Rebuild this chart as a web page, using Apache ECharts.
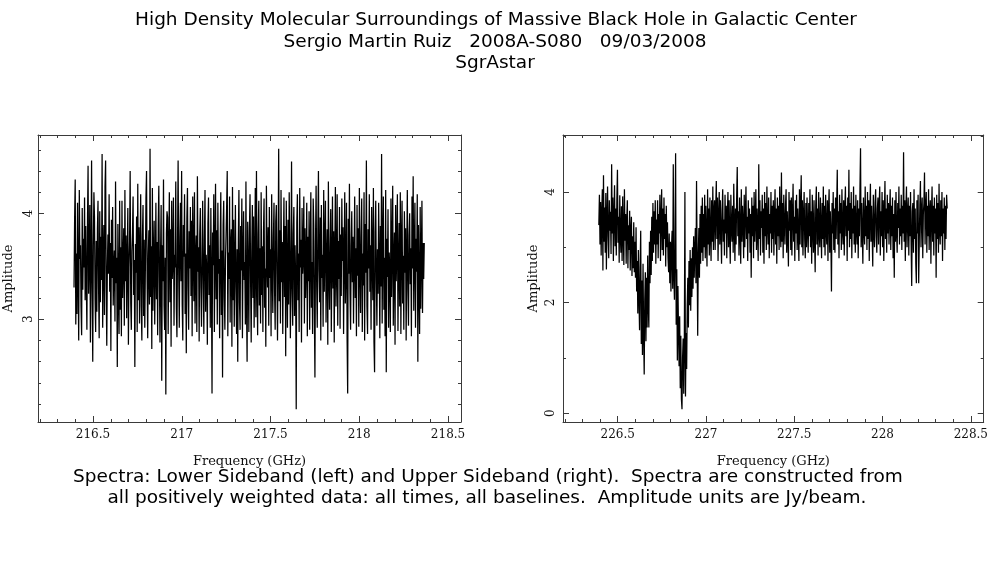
<!DOCTYPE html>
<html>
<head>
<meta charset="utf-8">
<title>SgrAstar spectra</title>
<script src="https://cdn.jsdelivr.net/npm/echarts@6/dist/echarts.min.js"></script>
<style>
  html, body { margin: 0; padding: 0; background: #fff; }
  #main { width: 991px; height: 567px; }
</style>
</head>
<body>
<div id="main"></div>
<script>
// channel grid of the two sidebands (GHz)
var lsbStart = 216.393;
var usbStart = 226.393;
var chanWidth = 0.003294;

// lower sideband amplitude (Jy/beam), one value per channel
var lsbAmp = [
  3.30, 3.95, 4.32, 2.95, 3.62, 3.05, 4.10, 3.40, 2.80, 4.22, 3.57, 3.70, 3.12, 2.85, 4.05, 3.28, 3.76, 3.49, 4.15, 3.18,
  3.88, 3.35, 2.90, 3.91, 4.45, 3.24, 3.58, 4.08, 2.78, 3.47, 4.50, 3.33, 2.60, 3.69, 4.20, 3.96, 3.19, 2.88, 3.74, 3.07,
  3.85, 4.12, 3.29, 2.82, 4.02, 3.16, 3.78, 3.37, 4.56, 2.92, 3.55, 3.89, 3.04, 4.25, 4.50, 3.31, 2.75, 3.50, 3.80, 3.43,
  4.18, 3.26, 3.72, 2.70, 3.94, 3.39, 4.06, 3.13, 3.48, 3.65, 2.98, 4.30, 3.34, 3.58, 2.55, 3.90, 3.25, 2.86, 4.12, 3.09,
  3.68, 2.84, 4.12, 3.20, 3.53, 3.86, 2.94, 4.22, 3.36, 3.79, 3.01, 3.57, 4.05, 2.76, 3.49, 3.74, 4.40, 3.15, 2.90, 3.64,
  3.82, 4.16, 3.23, 3.56, 2.55, 3.71, 3.44, 3.97, 2.88, 4.28, 3.18, 3.87, 2.96, 3.66, 4.18, 3.12, 2.80, 3.78, 4.08, 3.03,
  3.75, 2.92, 3.48, 4.14, 4.40, 3.37, 2.82, 3.60, 3.84, 3.14, 4.61, 3.21, 3.69, 2.72, 4.24, 3.08, 3.57, 3.93, 2.95, 3.46,
  4.10, 3.19, 3.73, 2.85, 3.88, 4.26, 3.40, 2.78, 3.63, 4.08, 2.42, 3.70, 3.36, 4.32, 3.13, 2.90, 3.58, 2.29, 3.81, 4.02,
  3.96, 2.86, 3.67, 4.20, 3.16, 3.85, 2.74, 4.12, 3.38, 3.55, 4.15, 2.94, 3.61, 3.49, 4.30, 3.10, 2.83, 3.68, 4.50, 3.45,
  2.92, 3.77, 4.10, 3.36, 4.40, 3.14, 2.80, 3.89, 3.59, 4.18, 3.05, 3.62, 2.68, 3.95, 4.24, 3.31, 2.90, 3.83, 3.48, 4.06,
  3.22, 3.93, 2.84, 4.16, 3.64, 3.17, 4.20, 2.96, 3.58, 3.79, 2.88, 4.35, 3.45, 3.68, 2.79, 3.80, 4.05, 3.30, 2.93, 3.55,
  4.12, 3.39, 2.86, 3.74, 4.22, 3.07, 3.61, 3.46, 2.76, 3.90, 4.15, 3.23, 3.70, 2.92, 4.05, 3.37, 2.30, 3.82, 3.51, 4.18,
  2.88, 3.62, 4.28, 3.19, 3.84, 2.95, 4.10, 3.43, 3.57, 2.82, 3.72, 4.20, 3.04, 3.65, 2.45, 3.89, 4.12, 3.21, 2.90, 3.56,
  3.79, 4.06, 4.40, 2.84, 3.63, 3.38, 4.16, 2.97, 3.70, 3.85, 2.74, 4.25, 3.18, 3.94, 2.93, 3.50, 4.08, 3.30, 2.86, 3.66,
  2.60, 3.75, 4.22, 3.16, 2.90, 3.88, 3.46, 4.14, 2.82, 3.60, 4.02, 3.37, 3.54, 2.95, 4.30, 3.14, 2.60, 3.92, 3.49, 2.88,
  3.86, 4.18, 3.34, 2.78, 3.64, 4.08, 3.20, 3.97, 2.92, 3.52, 4.24, 3.02, 4.40, 3.36, 2.85, 3.80, 4.12, 3.13, 3.67, 2.96,
  4.20, 3.23, 3.69, 2.88, 3.82, 4.14, 3.11, 3.48, 2.74, 4.26, 3.57, 3.30, 3.87, 2.94, 4.06, 3.39, 3.66, 2.84, 4.18, 3.45,
  3.06, 3.77, 4.10, 3.26, 2.90, 3.92, 4.08, 3.42, 2.80, 3.55, 4.61, 3.17, 3.84, 2.96, 4.22, 3.35, 3.73, 2.86, 3.60, 4.15,
  3.21, 3.88, 2.65, 4.12, 3.47, 2.92, 3.94, 3.14, 4.20, 3.67, 2.82, 3.40, 4.49, 3.29, 2.94, 3.81, 4.06, 3.03, 3.70, 3.38,
  2.15, 3.91, 4.18, 3.18, 3.62, 2.88, 4.24, 3.49, 3.75, 2.78, 4.05, 3.43, 3.60, 4.16, 2.96, 3.86, 3.20, 3.53, 4.10, 2.84,
  3.78, 3.36, 4.02, 2.90, 3.66, 4.20, 3.11, 3.54, 2.86, 4.14, 3.89, 3.07, 2.45, 3.73, 4.26, 3.31, 2.92, 3.82, 4.40, 3.47,
  3.16, 3.96, 2.80, 4.08, 3.39, 3.61, 2.93, 4.22, 3.26, 3.70, 4.12, 2.97, 3.57, 3.85, 2.76, 4.30, 3.44, 3.09, 3.67, 4.04,
  2.88, 3.52, 4.16, 3.29, 3.83, 2.78, 3.64, 4.25, 3.12, 3.48, 4.18, 2.94, 3.74, 3.38, 4.06, 2.91, 3.80, 3.22, 4.14, 3.55,
  3.87, 2.86, 3.60, 4.20, 3.15, 3.46, 4.10, 2.82, 2.30, 3.95, 3.43, 4.28, 3.24, 2.90, 3.69, 4.02, 3.35, 3.78, 2.96, 3.58,
  4.16, 3.20, 3.67, 2.84, 4.08, 3.41, 3.86, 2.93, 4.24, 3.53, 3.06, 3.77, 4.14, 2.88, 3.62, 3.32, 4.20, 2.80, 3.90, 3.44,
  4.50, 3.12, 2.86, 3.85, 3.48, 4.18, 3.26, 3.70, 2.90, 4.06, 3.59, 3.18, 4.24, 2.78, 2.50, 3.82, 4.12, 3.37, 2.94, 3.66,
  3.24, 4.10, 3.53, 2.82, 3.88, 3.31, 4.56, 2.96, 3.72, 4.16, 3.09, 3.58, 2.84, 4.22, 2.50, 3.76, 3.40, 4.04, 2.92, 3.63,
  3.47, 2.88, 4.14, 3.21, 3.69, 4.26, 2.94, 3.55, 3.82, 2.76, 4.08, 3.36, 3.64, 4.18, 2.89, 3.50, 3.91, 3.12, 4.20, 2.86,
  3.73, 4.12, 3.15, 3.60, 2.90, 4.02, 3.44, 3.86, 2.80, 3.58, 4.22, 3.27, 2.94, 3.79, 4.00, 3.33, 3.67, 2.84, 4.16, 3.48,
  4.35, 3.08, 3.62, 4.10, 2.92, 3.76, 3.45, 4.18, 2.60, 3.89, 3.34, 2.86, 4.06, 3.10, 3.58, 4.12, 3.06, 3.72, 3.38, 3.72
];

// upper sideband amplitude (Jy/beam), absorption near 226.65 and 226.87 GHz
var usbAmp = [
  3.40, 3.95, 3.05, 3.82, 2.85, 3.60, 4.05, 2.58, 4.30, 3.10, 3.72, 2.90, 3.98, 2.60, 3.52, 4.10, 3.20, 2.80, 3.85, 3.30,
  3.64, 2.88, 4.50, 3.25, 3.90, 2.75, 3.58, 4.12, 3.02, 3.70, 2.85, 3.86, 4.40, 3.08, 3.55, 2.72, 3.94, 3.18, 2.90, 3.74,
  2.75, 3.92, 3.25, 2.68, 4.05, 3.12, 3.60, 2.70, 3.48, 3.85, 2.62, 3.40, 2.95, 3.66, 2.58, 3.30, 3.55, 2.48, 3.20, 2.62,
  3.45, 2.55, 3.10, 2.45, 3.36, 2.20, 2.75, 1.80, 2.95, 2.10, 1.50, 2.60, 3.30, 1.25, 2.40, 1.05, 2.70, 1.45, 0.70, 2.05,
  2.55, 1.30, 2.45, 1.55, 2.85, 1.95, 1.55, 3.10, 2.35, 3.30, 2.50, 3.55, 2.75, 3.80, 2.90, 3.65, 3.05, 3.85, 2.70, 3.50,
  3.05, 3.85, 2.80, 3.60, 3.25, 3.95, 2.75, 3.50, 4.05, 2.95, 3.70, 2.85, 3.90, 3.15, 3.60, 2.65, 3.75, 3.00, 3.45, 2.80,
  2.55, 3.25, 2.35, 3.10, 2.20, 3.00, 3.30, 2.25, 4.50, 2.50, 2.05, 3.00, 4.70, 1.60, 2.60, 0.95, 2.30, 1.50, 0.85, 1.75,
  0.45, 1.40, 0.25, 0.07, 1.00, 1.35, 0.35, 1.20, 4.00, 0.30, 1.45, 0.80, 1.95, 2.45, 1.55, 2.75, 1.95, 2.95, 1.85, 2.80,
  2.10, 3.00, 2.25, 3.20, 2.45, 2.95, 3.35, 2.35, 4.20, 2.85, 1.40, 2.85, 3.35, 2.45, 3.60, 2.70, 3.75, 2.90, 3.90, 2.75,
  3.60, 3.00, 3.95, 2.80, 3.75, 3.20, 2.65, 4.05, 3.05, 3.70, 2.85, 3.90, 3.25, 2.75, 3.85, 3.10, 4.10, 2.95, 3.65, 3.85,
  2.95, 3.70, 4.20, 3.15, 3.90, 2.75, 3.55, 4.00, 3.05, 3.85, 3.30, 2.70, 3.65, 4.05, 3.10, 3.50, 2.85, 3.95, 3.25, 3.75,
  2.80, 3.60, 4.00, 3.00, 3.85, 3.20, 2.70, 3.95, 3.35, 3.10, 3.75, 2.90, 4.15, 3.40, 2.75, 3.70, 3.05, 3.90, 4.45, 3.20,
  3.65, 2.85, 3.90, 3.30, 2.70, 4.05, 3.10, 3.75, 3.45, 2.80, 3.95, 3.00, 3.60, 4.10, 3.15, 3.55, 2.75, 3.85, 3.25, 3.70,
  2.90, 3.60, 2.45, 3.90, 3.20, 3.75, 2.80, 4.00, 3.10, 3.50, 4.05, 2.95, 3.70, 3.25, 2.75, 4.50, 3.15, 3.85, 2.85, 3.65,
  3.35, 3.95, 2.90, 3.70, 2.70, 4.00, 3.20, 3.80, 2.95, 4.10, 3.40, 3.05, 3.90, 2.80, 3.60, 3.25, 4.00, 2.90, 3.75, 3.15,
  3.85, 2.85, 3.55, 4.05, 3.05, 3.70, 2.70, 3.90, 3.20, 3.75, 2.95, 4.10, 3.35, 3.00, 4.35, 3.10, 3.80, 2.80, 3.95, 3.40,
  3.05, 3.75, 4.05, 2.90, 3.65, 3.20, 2.65, 4.00, 3.30, 3.85, 2.95, 3.90, 2.85, 3.60, 4.15, 3.10, 3.55, 2.75, 3.85, 3.25,
  3.95, 2.95, 3.70, 3.25, 2.75, 4.05, 3.05, 3.75, 4.30, 3.00, 3.85, 2.85, 3.55, 4.00, 3.15, 2.80, 3.80, 3.00, 3.90, 3.30,
  2.90, 3.80, 3.20, 4.05, 3.00, 3.65, 2.70, 3.95, 3.35, 2.90, 3.85, 3.15, 2.55, 3.75, 4.10, 3.05, 3.70, 2.85, 4.00, 3.25,
  3.00, 3.90, 3.35, 2.80, 3.80, 3.15, 4.10, 3.00, 3.75, 2.85, 3.95, 3.30, 3.05, 3.85, 2.75, 3.70, 4.05, 2.90, 3.65, 3.20,
  2.20, 3.80, 3.25, 4.00, 2.95, 3.70, 2.90, 3.90, 3.15, 3.75, 4.40, 3.05, 3.65, 2.80, 3.95, 3.25, 3.80, 2.95, 4.05, 3.30,
  3.05, 3.85, 2.85, 3.70, 4.10, 3.20, 3.75, 2.75, 3.90, 3.30, 4.40, 3.00, 3.80, 3.15, 4.00, 2.80, 3.70, 3.25, 4.10, 3.05,
  3.75, 2.90, 3.95, 3.30, 3.05, 3.85, 2.80, 3.70, 3.20, 4.05, 4.79, 3.00, 3.80, 3.25, 2.70, 3.90, 3.35, 3.05, 4.10, 3.20,
  3.75, 2.95, 4.00, 3.15, 3.85, 2.75, 3.65, 4.15, 3.10, 3.75, 3.25, 2.65, 3.95, 3.30, 3.00, 3.80, 4.05, 3.20, 2.90, 3.70,
  3.90, 3.05, 3.75, 4.10, 2.85, 3.65, 3.20, 4.00, 3.00, 3.85, 2.75, 3.60, 4.20, 3.15, 3.70, 2.90, 3.95, 3.25, 3.80, 3.05,
  3.65, 4.05, 2.95, 3.75, 3.20, 3.90, 2.80, 3.60, 2.45, 3.85, 3.10, 4.00, 3.25, 2.90, 3.80, 3.35, 4.10, 3.05, 3.70, 3.20,
  3.95, 2.95, 3.75, 3.25, 4.72, 3.10, 3.85, 2.75, 3.70, 4.10, 3.00, 3.60, 3.90, 2.85, 3.75, 3.20, 4.00, 3.05, 2.30, 3.65,
  3.80, 2.90, 4.05, 3.15, 3.70, 2.70, 2.35, 3.85, 3.25, 3.95, 2.35, 3.10, 3.75, 4.20, 3.00, 3.65, 3.90, 2.80, 3.60, 3.80,
  4.35, 3.05, 3.70, 4.00, 2.90, 3.75, 3.20, 4.05, 2.95, 3.65, 3.85, 2.70, 3.60, 4.10, 3.10, 3.75, 2.85, 3.90, 3.25, 3.70,
  2.45, 3.95, 3.15, 3.80, 2.90, 4.15, 3.30, 3.05, 3.85, 3.20, 4.00, 2.75, 3.70, 3.25, 3.90, 2.95, 3.75, 3.15, 3.95, 3.70
];

// axis ranges and ticks
var lsbXRange = [216.19, 218.573];
var usbXRange = [226.19, 228.573];
var lsbYRange = [2.03, 4.74];
var usbYRange = [-0.16, 5.03];
var lsbXMajor = [216.5, 217, 217.5, 218, 218.5];
var lsbXMinor = [216.2, 216.3, 216.4, 216.6, 216.7, 216.8, 216.9, 217.1, 217.2, 217.3, 217.4,
                 217.6, 217.7, 217.8, 217.9, 218.1, 218.2, 218.3, 218.4];
var usbXMajor = [226.5, 227, 227.5, 228, 228.5];
var usbXMinor = [226.2, 226.3, 226.4, 226.6, 226.7, 226.8, 226.9, 227.1, 227.2, 227.3, 227.4,
                 227.6, 227.7, 227.8, 227.9, 228.1, 228.2, 228.3, 228.4];
var lsbYMajor = [3, 4];
var lsbYMinor = [2.2, 2.4, 2.6, 2.8, 3.2, 3.4, 3.6, 3.8, 4.2, 4.4, 4.6];
var usbYMajor = [0, 2, 4];
var usbYMinor = [1, 3, 5];

var titleLines = [
  'High Density Molecular Surroundings of Massive Black Hole in Galactic Center',
  'Sergio Martin Ruiz   2008A-S080   09/03/2008',
  'SgrAstar'
];
var captionLines = [
  'Spectra: Lower Sideband (left) and Upper Sideband (right).  Spectra are constructed from',
  'all positively weighted data: all times, all baselines.  Amplitude units are Jy/beam.'
];

window.onload = function () {

    var myChart = echarts.init(document.getElementById('main'));

    var axisColor = '#3a3a3a';
    var serif = '"DejaVu Serif", serif';
    var xAxes = [];
    var yAxes = [];

    function pairs(start, amps) {
        var out = [];
        for (var i = 0; i < amps.length; i++) {
            out.push([start + i * chanWidth, amps[i]]);
        }
        return out;
    }

    // one visible axis with labels, plus tick-only axes for minor ticks and the mirrored side
    function addAxes(list, grid, pos, other, range, major, minor, opts) {
        var base = {
            type: 'value', gridIndex: grid, min: range[0], max: range[1],
            splitLine: { show: false }, axisPointer: { show: false }
        };
        list.push(Object.assign({}, base, {
            position: pos,
            axisLine: { show: true, onZero: false, lineStyle: { color: axisColor, width: 1 } },
            axisTick: { show: true, inside: true, length: 6, customValues: major, lineStyle: { color: axisColor } },
            axisLabel: Object.assign({ show: true, customValues: major, color: '#111', fontFamily: serif, fontSize: 12 }, opts.label),
            name: opts.name, nameLocation: 'middle', nameGap: opts.nameGap, nameRotate: opts.nameRotate,
            nameTextStyle: { color: '#111', fontFamily: serif, fontSize: 13 }
        }));
        list.push(Object.assign({}, base, {
            position: pos,
            axisLine: { show: false, onZero: false },
            axisTick: { show: true, inside: true, length: 3, customValues: minor, lineStyle: { color: axisColor } },
            axisLabel: { show: false }
        }));
        list.push(Object.assign({}, base, {
            position: other,
            axisLine: { show: true, onZero: false, lineStyle: { color: axisColor, width: 1 } },
            axisTick: { show: true, inside: true, length: 6, customValues: major, lineStyle: { color: axisColor } },
            axisLabel: { show: false }
        }));
        list.push(Object.assign({}, base, {
            position: other,
            axisLine: { show: false, onZero: false },
            axisTick: { show: true, inside: true, length: 3, customValues: minor, lineStyle: { color: axisColor } },
            axisLabel: { show: false }
        }));
    }

    addAxes(xAxes, 0, 'bottom', 'top', lsbXRange, lsbXMajor, lsbXMinor,
        { name: 'Frequency (GHz)', nameGap: 33, label: { margin: 7 } });
    addAxes(xAxes, 1, 'bottom', 'top', usbXRange, usbXMajor, usbXMinor,
        { name: 'Frequency (GHz)', nameGap: 33, label: { margin: 7 } });
    addAxes(yAxes, 0, 'left', 'right', lsbYRange, lsbYMajor, lsbYMinor,
        { name: 'Amplitude', nameGap: 23, nameRotate: 90, label: { rotate: 90, margin: 3 } });
    addAxes(yAxes, 1, 'left', 'right', usbYRange, usbYMajor, usbYMinor,
        { name: 'Amplitude', nameGap: 23, nameRotate: 90, label: { rotate: 90, margin: 6 } });

    var textStyle = function (txt, x, y) {
        return {
            type: 'text', x: x, y: y, silent: true,
            style: {
                text: txt, fill: '#000', align: 'center', verticalAlign: 'middle',
                font: '18.5px "DejaVu Sans", sans-serif'
            }
        };
    };

    var option = {
        animation: false,
        backgroundColor: '#fff',
        grid: [
            { left: 38, top: 135, width: 423, height: 287 },
            { left: 563, top: 135, width: 422, height: 287 }
        ],
        xAxis: xAxes,
        yAxis: yAxes,
        graphic: [
            textStyle(titleLines[0], 496, 20),
            textStyle(titleLines[1], 495, 42),
            textStyle(titleLines[2], 495, 63),
            textStyle(captionLines[0], 488, 477),
            textStyle(captionLines[1], 487, 498)
        ],
        series: [{
            name: 'Lower Sideband',
            type: 'line',
            xAxisIndex: 0,
            yAxisIndex: 0,
            showSymbol: false,
            lineStyle: { color: '#000', width: 1.25 },
            data: pairs(lsbStart, lsbAmp)
        }, {
            name: 'Upper Sideband',
            type: 'line',
            xAxisIndex: 4,
            yAxisIndex: 4,
            showSymbol: false,
            lineStyle: { color: '#000', width: 1.25 },
            data: pairs(usbStart, usbAmp)
        }]
    };
    myChart.setOption(option);
    window.addEventListener('resize', function () {
        myChart.resize();
    });

}
</script>
</body>
</html>
